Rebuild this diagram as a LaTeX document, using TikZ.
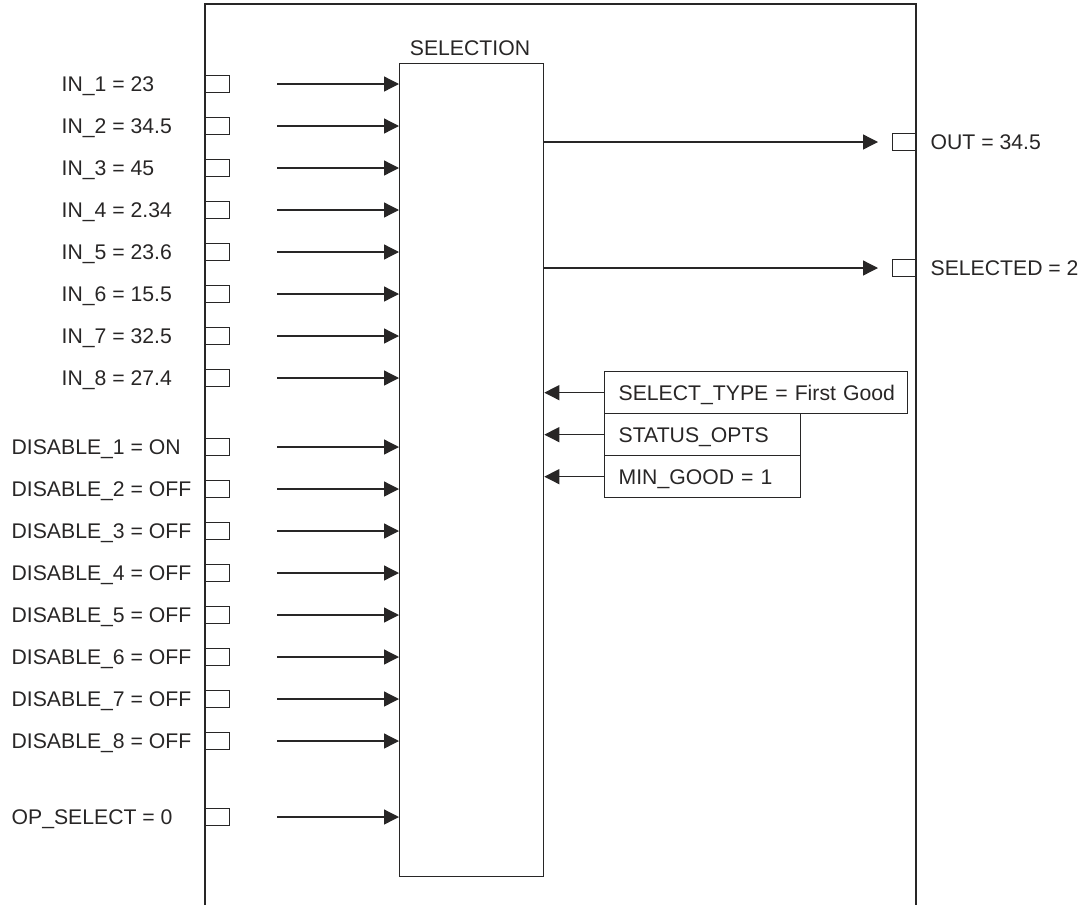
\documentclass[tikz,border=0pt]{standalone}
\usepackage{fontspec}
\setmainfont{Liberation Sans}
\usetikzlibrary{arrows.meta}
\definecolor{ink}{RGB}{40,38,38}
\begin{document}
\begin{tikzpicture}[x=1pt,y=-1pt,line width=1.3pt,draw=ink,text=ink,
  port/.style={draw,minimum width=24pt,minimum height=17pt,inner sep=0pt,anchor=west},
  lbl/.style={anchor=base west,inner sep=0pt,font=\fontsize{21.2}{25}\selectfont},
  conn/.style={-{Triangle[length=15pt,width=15pt]}},
  pbox/.style={draw,anchor=north west,minimum height=42pt,inner xsep=14pt,inner ysep=0pt,
    text height=15.2pt,text depth=0pt,align=left,font=\fontsize{21.2}{25}\selectfont}]
\useasboundingbox (0,0) rectangle (1086,905);
% frame
\draw (205,905) -- (205,4) -- (916,4) -- (916,905);
% selection block
\node[draw,minimum width=144pt,minimum height=813pt,anchor=north west,inner sep=0pt] (sel) at (399,63) {};
\node[lbl,anchor=base] (title) at (470,55) {SELECTION};
% inputs
\foreach \n/\y/\t/\lx in {i1/84/IN\_1 = 23/61, i2/126/IN\_2 = 34.5/61, i3/168/IN\_3 = 45/61,
  i4/210/IN\_4 = 2.34/61, i5/252/IN\_5 = 23.6/61, i6/294/IN\_6 = 15.5/61,
  i7/336/IN\_7 = 32.5/61, i8/378/IN\_8 = 27.4/61,
  d1/447/DISABLE\_1 = ON/11, d2/489/DISABLE\_2 = OFF/11, d3/531/DISABLE\_3 = OFF/11,
  d4/573/DISABLE\_4 = OFF/11, d5/615/DISABLE\_5 = OFF/11, d6/657/DISABLE\_6 = OFF/11,
  d7/699/DISABLE\_7 = OFF/11, d8/741/DISABLE\_8 = OFF/11, op/817/OP\_SELECT = 0/11}{
  \node[port] (p\n) at (205,\y) {};
  \node[lbl] (l\n) at (\lx,\y+7.6) {\t};
  \coordinate (s\n) at (277,\y);
  \draw[conn] (s\n) -- (sel.west |- s\n);
}
% outputs
\node[port] (pout) at (892,142) {};
\node[lbl] (lout) at (930,142+7.6) {OUT = 34.5};
\draw[conn] (sel.east |- pout) -- ([xshift=-14pt]pout.west);
\node[port] (psel) at (892,268) {};
\node[lbl] (lsel) at (930,268+7.6) {SELECTED = 2};
\draw[conn] (sel.east |- psel) -- ([xshift=-14pt]psel.west);
% parameter boxes
\node[pbox,text width=275pt] (st) at (604,371) {\mbox{SELECT\_TYPE = First Good}};
\node[pbox,text width=168pt] (so) at (604,413) {STATUS\_OPTS};
\node[pbox,text width=168pt] (mg) at (604,455) {MIN\_GOOD = 1};
\draw[conn] (st.west) -- (sel.east |- st.west);
\draw[conn] (so.west) -- (sel.east |- so.west);
\draw[conn] (mg.west) -- (sel.east |- mg.west);
\end{tikzpicture}
\end{document}
